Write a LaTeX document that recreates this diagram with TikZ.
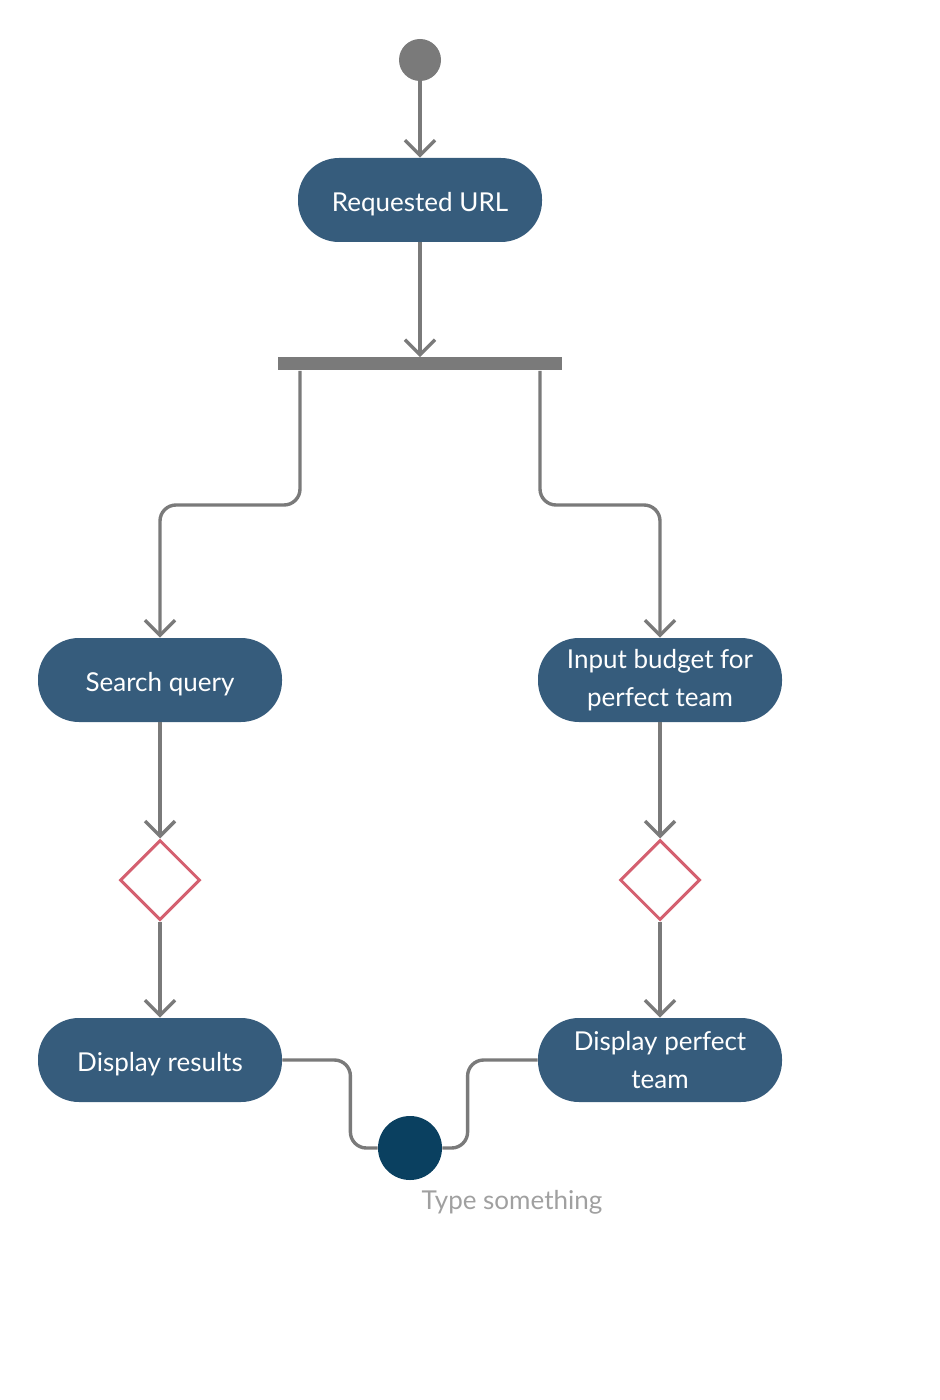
\documentclass[tikz,border=0pt]{standalone}
\usepackage{fontspec}
\setmainfont{Lato}
\usetikzlibrary{arrows.meta,shapes.geometric}
\definecolor{actblue}{RGB}{54,92,124}
\definecolor{decred}{RGB}{212,96,112}
\definecolor{flowgray}{RGB}{122,122,122}
\definecolor{endblue}{RGB}{10,64,96}
\definecolor{notegray}{RGB}{160,160,160}
\begin{document}
\begin{tikzpicture}[x=0.5pt, y=-0.5pt,
  every node/.style = {font=\fontsize{13}{19}\selectfont},
  action/.style = {shape=rectangle, rounded corners=20.5pt,
    fill=actblue, text=white, align=center,
    minimum width=122pt, minimum height=42pt, inner sep=2pt,
    execute at begin node={\rule{0pt}{13.5pt}}},
  decision/.style = {shape=diamond, draw=decred, line width=1.5pt,
    minimum width=40pt, minimum height=40pt, inner sep=0pt},
  flow/.style = {draw=flowgray, line width=1.7pt, rounded corners=8pt},
  arr/.style = {-{Straight Barb[length=7.5pt,width=15pt]}}
  ]
  \useasboundingbox (0,0) rectangle (940,1400);

  % nodes
  \node (start) [circle, fill=flowgray, minimum size=21pt, inner sep=0pt] at (420,60) {};
  \node (url) [action] at (420,200) {Requested URL};
  \node (fork) [rectangle, fill=flowgray, minimum width=142pt,
    minimum height=6.5pt, inner sep=0pt] at (420,364) {};
  \node (search) [action] at (160,680) {Search query};
  \node (budget) [action] at (660,680) {Input budget for\\perfect team};
  \node (dleft) [decision] at (160,880) {};
  \node (dright) [decision] at (660,880) {};
  \node (results) [action] at (160,1060) {Display results};
  \node (team) [action] at (660,1060) {Display perfect\\team};
  \node (end) [circle, fill=endblue, minimum size=32pt, inner sep=0pt] at (410,1148) {};
  \node (note) [text=notegray] at (512,1202) {Type something};

  \coordinate (lbend) at (160,505);
  \coordinate (rbend) at (660,505);

  % connectors
  \draw[flow, arr] (start) -- (url);
  \draw[flow, arr] (url) -- (fork);
  \draw[flow, arr] ([xshift=-60pt]fork.south) |- (lbend) -- (search);
  \draw[flow, arr] ([xshift=60pt]fork.south) |- (rbend) -- (budget);
  \draw[flow, arr] (search) -- (dleft);
  \draw[flow, arr] (budget) -- (dright);
  \draw[flow, arr] (dleft) -- (results);
  \draw[flow, arr] (dright) -- (team);
  \draw[flow] (results.east) -- ++(34pt,0) |- (end.west);
  \draw[flow] (team.west) -- ++(-35pt,0) |- (end.east);
\end{tikzpicture}
\end{document}
